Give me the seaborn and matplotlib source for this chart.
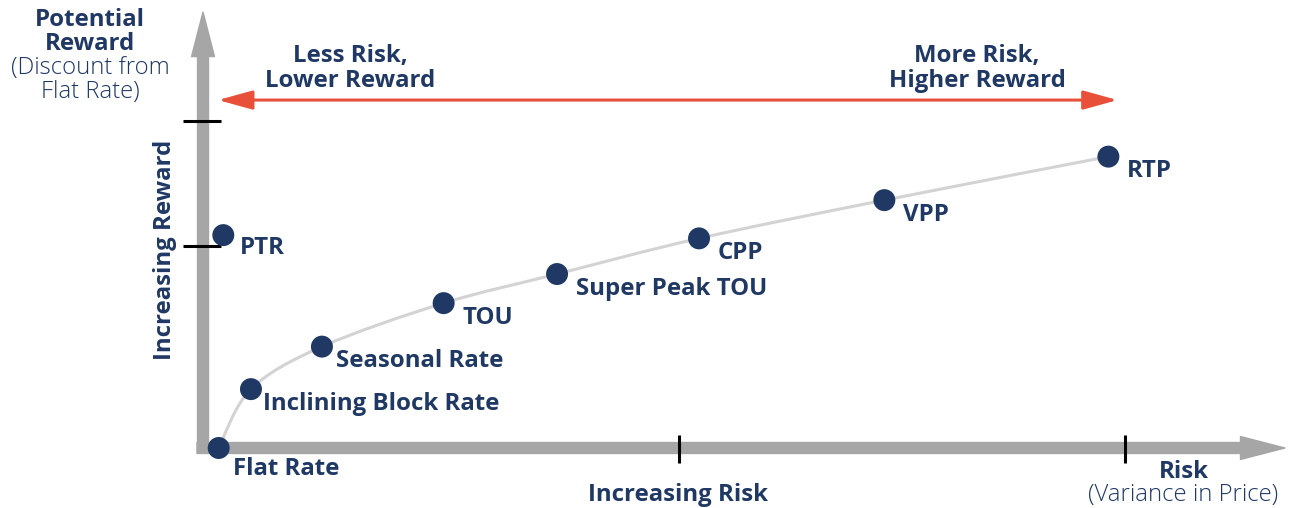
import numpy as np
import pandas as pd
import matplotlib
matplotlib.use('Agg')
import matplotlib.pyplot as plt
from matplotlib.patches import FancyArrowPatch, PathPatch
from matplotlib.path import Path
import seaborn as sns

# rate designs along the risk / reward curve
rates = ['Flat Rate', 'Inclining Block Rate', 'Seasonal Rate', 'TOU',
         'Super Peak TOU', 'CPP', 'VPP', 'RTP']
risk = [0.17, 0.52, 1.29, 2.61, 3.84, 5.38, 7.39, 9.82]
reward = [0.00, 1.80, 3.10, 4.43, 5.32, 6.41, 7.58, 8.91]

# peak time rebate sits off the curve
ptr_label = 'PTR'
ptr_risk = 0.22
ptr_reward = 6.51

risk_ticks = [5.16, 10.0]
reward_ticks = [6.18, 10.0]

NAVY = '#1f3864'
RED = '#e8503a'
GRAY = '#a6a6a6'
CURVE = '#d3d3d3'

sns.set_theme(style='white')
plt.rcParams['font.family'] = ['Open Sans', 'DejaVu Sans']

df = pd.DataFrame({'rate': rates, 'risk': risk, 'reward': reward})
df_ptr = pd.DataFrame({'rate': [ptr_label], 'risk': [ptr_risk], 'reward': [ptr_reward]})

fig = plt.figure(figsize=(12.89, 5.08), dpi=100)
ax = fig.add_axes([0, 0, 1, 1])
ax.set_xlim(-2.202, 11.779)
ax.set_ylim(-1.835, 13.70)
ax.axis('off')

# smooth curve through the rate points (Catmull-Rom as cubic Bezier)
pts = df[['risk', 'reward']].to_numpy()
ext = np.vstack([pts[0], pts, pts[-1]])
verts = [tuple(pts[0])]
codes = [Path.MOVETO]
for i in range(1, len(ext) - 2):
    p0, p1, p2, p3 = ext[i - 1], ext[i], ext[i + 1], ext[i + 2]
    verts += [tuple(p1 + (p2 - p0) / 6), tuple(p2 - (p3 - p1) / 6), tuple(p2)]
    codes += [Path.CURVE4] * 3
ax.add_patch(PathPatch(Path(verts, codes), fill=False, edgecolor=CURVE, lw=2.2, zorder=2))

# axes as thick gray arrows
ax.add_patch(FancyArrowPatch((0, -0.15), (0, 13.33),
                             arrowstyle='simple,head_length=32,head_width=16.5,tail_width=7.9',
                             mutation_scale=1, color=GRAY, shrinkA=0, shrinkB=0, zorder=1))
ax.add_patch(FancyArrowPatch((-0.065, 0), (11.735, 0),
                             arrowstyle='simple,head_length=32,head_width=16.5,tail_width=7.9',
                             mutation_scale=1, color=GRAY, shrinkA=0, shrinkB=0, zorder=1))

# tick marks
for t in reward_ticks:
    ax.plot([-0.217, 0.195], [t, t], color='black', lw=2.2, zorder=3, solid_capstyle='butt')
for t in risk_ticks:
    ax.plot([t, t], [0.40, -0.46], color='black', lw=2.2, zorder=3, solid_capstyle='butt')

# red double arrow
ax.add_patch(FancyArrowPatch((0.163, 10.64), (9.92, 10.64),
                             arrowstyle='<|-|>,head_length=21,head_width=5.8',
                             mutation_scale=1, color=RED, lw=2.2, shrinkA=0, shrinkB=0, zorder=3))

# points
sns.scatterplot(data=df, x='risk', y='reward', s=250, color=NAVY, edgecolor='none',
                ax=ax, zorder=5, legend=False)
sns.scatterplot(data=df_ptr, x='risk', y='reward', s=250, color=NAVY, edgecolor='none',
                ax=ax, zorder=5, legend=False)

FS = 17.3
lab = dict(color=NAVY, fontsize=FS, fontweight='bold', ha='left', va='center')
for name, x, y in zip(rates, risk, reward):
    if name == 'Flat Rate':
        off = (10, -15)
    elif name == 'Inclining Block Rate':
        off = (8.5, -11)
    elif name == 'Seasonal Rate':
        off = (10, -10.5)
    else:
        off = (13.5, -10.5)
    ax.annotate(name, (x, y), xytext=off, textcoords='offset points', **lab)
ax.annotate(ptr_label, (ptr_risk, ptr_reward), xytext=(12, -9.5), textcoords='offset points', **lab)

# titles, in figure pixel positions
def px(x, y):
    return x / 1289, 1 - y / 508

bold = dict(color=NAVY, fontsize=FS, fontweight='bold', ha='center', va='center',
            transform=ax.transAxes)
light = dict(color=NAVY, fontsize=17.2, fontweight='light', ha='center', va='center',
             transform=ax.transAxes)

ax.text(*px(90, 20), 'Potential', **bold)
ax.text(*px(90, 44), 'Reward', **bold)
ax.text(*px(90, 68), '(Discount from', **light)
ax.text(*px(90, 92), 'Flat Rate)', **light)

ax.text(*px(165, 250), 'Increasing Reward', rotation=90, **bold)
ax.text(*px(678, 495), 'Increasing Risk', **bold)
ax.text(*px(1184, 472), 'Risk', **bold)
ax.text(*px(1183, 495), '(Variance in Price)', **light)

ax.text(*px(350, 56), 'Less Risk,', **bold)
ax.text(*px(350, 81), 'Lower Reward', **bold)
ax.text(*px(977, 56), 'More Risk,', **bold)
ax.text(*px(977, 81), 'Higher Reward', **bold)

fig.savefig('out.png', dpi=100, facecolor='white')
